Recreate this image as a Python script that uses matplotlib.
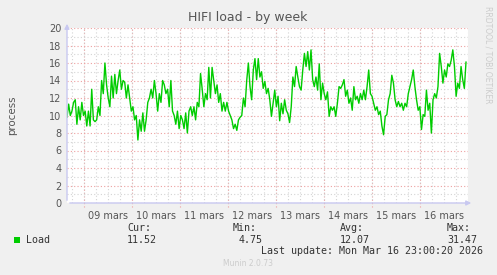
import matplotlib
matplotlib.use("Agg")
import matplotlib.pyplot as plt
import matplotlib.dates as mdates
from matplotlib.patches import Rectangle
import numpy as np
import pandas as pd

# load values (about one sample every 50 min)
load = [9.8, 11.3, 10, 10.5, 11.5, 11.8, 9, 11, 9.5, 11.5, 10, 10.5, 8.8, 10.5, 8.8, 13,
        9.5, 9.3, 9.5, 11, 10, 14, 12.5, 16, 13.5, 12, 11, 14.5, 12, 14.7, 12.5, 14, 15.2,
        13, 14, 13.8, 12, 13.5, 12, 10.5, 11, 9.5, 10, 7.2, 9.5, 8.2, 10.3, 8.2, 9.5, 11.5,
        12, 13, 12, 14, 12.5, 10.5, 12.5, 11.5, 14, 13.5, 12.5, 13, 11, 14, 10.5, 10, 9,
        10.5, 8.5, 10, 9.5, 8.5, 10.3, 8, 10.5, 11, 10, 11, 9.5, 11.5, 11, 14.8, 13, 11,
        12.5, 11.8, 15.5, 12, 15.5, 14, 12.5, 13.5, 11.5, 12.5, 10.5, 11.5, 10.5, 11.5,
        10.5, 10, 9.5, 8.5, 9, 8.3, 9.5, 9.8, 10, 12, 11, 14,
        16, 13.3, 11.8, 15.2, 16.5, 14.1, 16.5, 14.4, 15, 13.1, 13.9, 12.5, 13.1, 11.8,
        9.9, 11.4, 12.9, 11, 12.2, 9.4, 11.4, 10.2, 11.8, 10.6, 10.2, 9.2, 11, 14.4, 13.3,
        15.6, 14.4, 13.3, 12.9, 15.2, 17.1, 15.6, 17.3, 15.2, 17.5, 14.1, 13.3, 14.4, 12.9,
        15.9, 11.8, 13.7, 12.5, 11.8, 12.7, 9.9, 11, 10.6, 11, 9.9, 11.4, 13.3, 13.1, 13.5,
        14.1, 12.2, 12.9, 11.4, 12, 10.6, 13.3, 11.8, 12.2, 11.4, 12.5, 11.8, 12.9, 11.8,
        13.3, 15.2, 12.5, 12.2, 11.4, 10.6, 11, 10.1, 10.5, 8.8, 7.8, 9.9, 10.1, 11.8, 12.5,
        14.6, 13.7, 11.8, 11, 11.6, 11, 11.4, 10.6, 11.4, 11, 12.5, 13.3, 14.1, 15.2, 13.3,
        11.8, 10.6, 11, 8.4, 10.1, 9.9, 12.9, 10.6, 11.4, 8, 11.8, 12.5, 12, 13.3, 17.1,
        15.6, 13.7, 15.2, 14.4, 15.9, 15.6, 16.3, 17.5, 15.6, 12.2, 13.7, 13.1, 15.6, 14.1,
        13.1, 16.1]

first_sample = pd.Timestamp("2026-03-08 15:30")
last_sample = pd.Timestamp("2026-03-16 23:00")
view_end = pd.Timestamp("2026-03-17 00:00")

stat_labels = ["Cur:", "Min:", "Avg:", "Max:"]
stat_values = ["11.52", "4.75", "12.07", "31.47"]
last_update = "Last update: Mon Mar 16 23:00:20 2026"

times = pd.date_range(first_sample, last_sample, periods=len(load))

W, H = 497, 275
fig = plt.figure(figsize=(W / 100, H / 100), dpi=100, facecolor="#f0f0f0")
ax = fig.add_axes([67 / W, 1 - 203 / H, (468 - 67) / W, (203 - 28) / H])
ax.set_facecolor("white")

ax.plot(times, load, color="#00cc00", linewidth=1.0, zorder=3)

ax.set_xlim(first_sample, view_end)
ax.set_ylim(0, 20)

# grids: grey dotted minor, red dotted major
ax.yaxis.set_major_locator(plt.MultipleLocator(2))
ax.yaxis.set_minor_locator(plt.MultipleLocator(1))
ax.xaxis.set_major_locator(mdates.HourLocator(byhour=12))
ax.xaxis.set_major_formatter(mdates.DateFormatter("%d mars"))
ax.xaxis.set_minor_locator(mdates.HourLocator(byhour=[0, 6, 18]))

ax.grid(which="minor", color="#d4d4d4", linestyle=(0, (1, 2)), linewidth=0.8)
ax.grid(which="major", axis="x", color="#d4d4d4", linestyle=(0, (1, 2)), linewidth=0.8)
ax.grid(which="major", axis="y", color="#eea0a0", linestyle=(0, (1, 2)), linewidth=0.8)
for day in pd.date_range("2026-03-09", "2026-03-16"):
    ax.axvline(day, ymin=-0.02, ymax=1, color="#eea0a0", linestyle=(0, (1, 2)),
               linewidth=0.8, clip_on=False, zorder=1)

for s in ax.spines.values():
    s.set_visible(False)
ax.tick_params(which="both", length=0, labelsize=7, labelcolor="#555555", pad=6)
ax.tick_params(axis="y", pad=4)

# axis lines with arrows
ax.annotate("", xy=(0, 1.04), xytext=(0, 0), xycoords="axes fraction",
            arrowprops=dict(arrowstyle="-|>", color="#c8c8f0", lw=1, mutation_scale=7),
            annotation_clip=False)
ax.annotate("", xy=(1.015, 0), xytext=(0, 0), xycoords="axes fraction",
            arrowprops=dict(arrowstyle="-|>", color="#c8c8f0", lw=1, mutation_scale=7),
            annotation_clip=False)

fig.text(248 / W, 1 - 18 / H, "HIFI load - by week", ha="center", va="center",
         fontsize=9, color="#555555")
fig.text(12 / W, 1 - 115 / H, "process", rotation=90, ha="center", va="center",
         fontsize=7.4, color="#555555")
fig.text(488 / W, 1 - 55 / H, "RRDTOOL / TOBI OETIKER", rotation=270, ha="center",
         va="center", fontsize=5.5, color="#cccccc")

mono = "DejaVu Sans Mono"
fig.patches.append(Rectangle((14 / W, 1 - 243 / H), 6 / W, 6 / H, transform=fig.transFigure,
                             facecolor="#00cc00", edgecolor="none"))
fig.text(26 / W, 1 - 240 / H, "Load", ha="left", va="center", fontsize=7.2,
         family=mono, color="#333333")
for lab, val, x, xv in zip(stat_labels, stat_values, [127, 233, 340, 447], [127, 239, 340, 447]):
    fig.text(x / W, 1 - 228 / H, lab, ha="left", va="center", fontsize=7.2, family=mono,
             color="#333333")
    fig.text(xv / W, 1 - 240 / H, val, ha="left", va="center", fontsize=7.2, family=mono,
             color="#333333")
fig.text(261 / W, 1 - 251 / H, last_update, ha="left", va="center", fontsize=7.2,
         family=mono, color="#333333")
fig.text(248 / W, 1 - 263 / H, "Munin 2.0.73", ha="center", va="center", fontsize=5.5,
         color="#cccccc")

fig.savefig("out.png", dpi=100, facecolor=fig.get_facecolor())
